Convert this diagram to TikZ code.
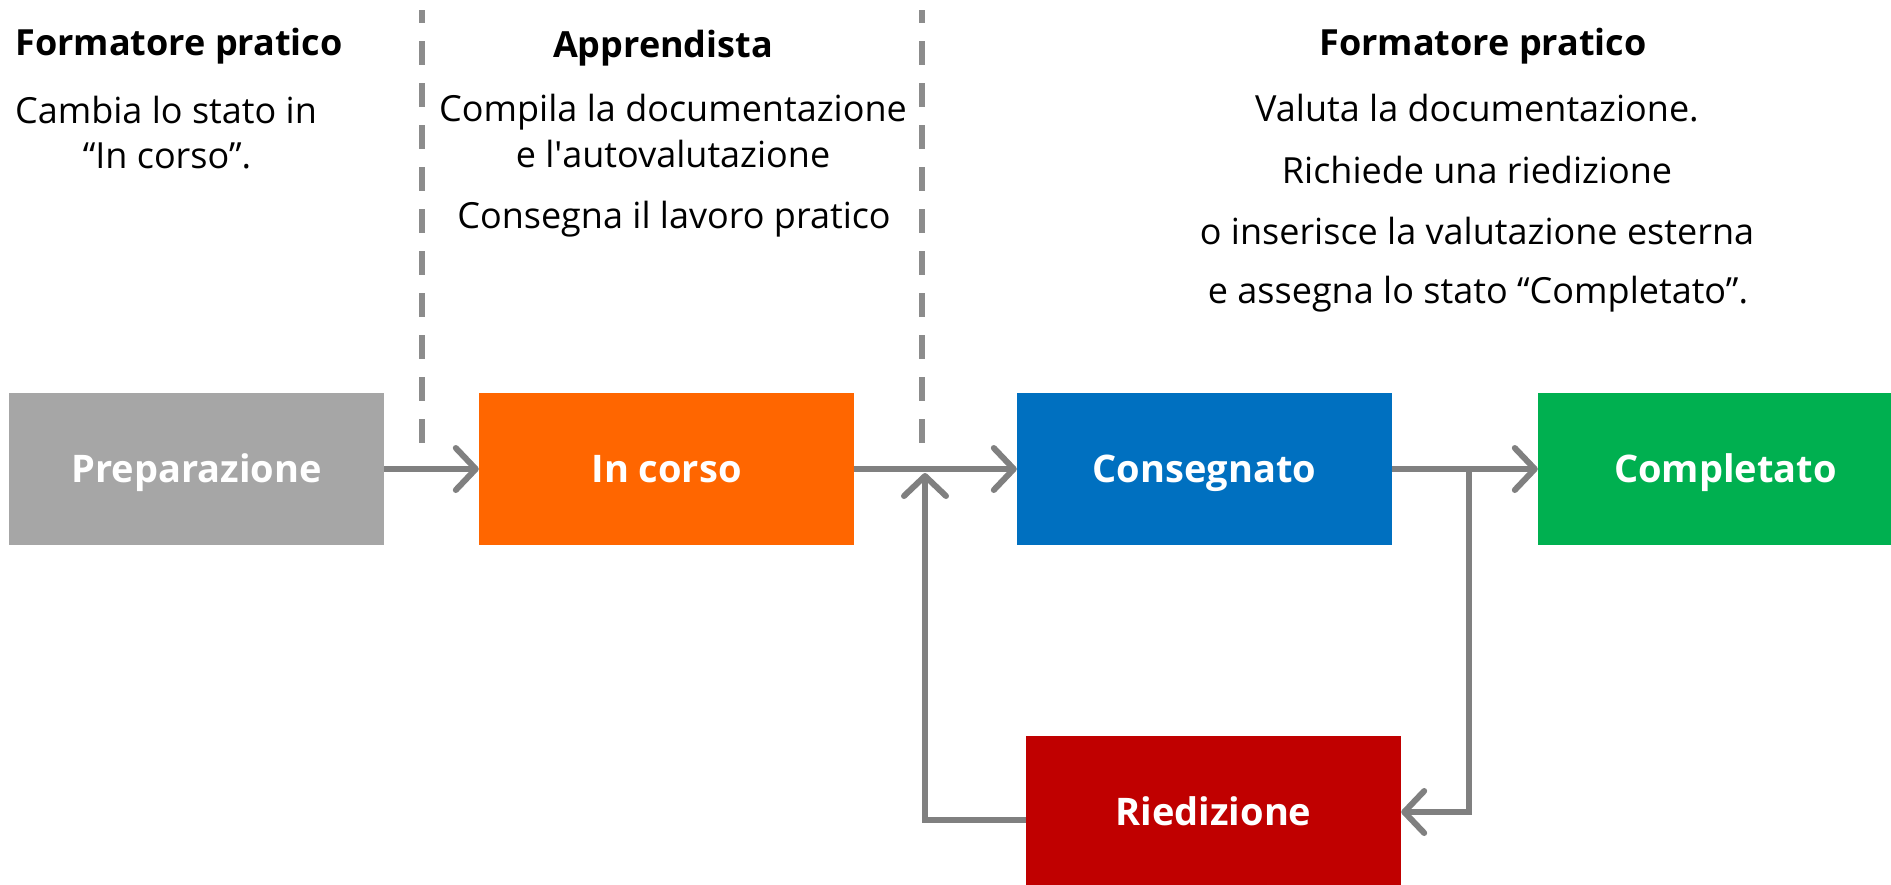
\documentclass[tikz,border=0pt]{standalone}
\usepackage{fontspec}
\setmainfont{Open Sans}
\usetikzlibrary{arrows.meta}
\definecolor{cgray}{HTML}{A6A6A6}
\definecolor{corange}{HTML}{FF6600}
\definecolor{cblue}{HTML}{0070C0}
\definecolor{cgreen}{HTML}{00B050}
\definecolor{cred}{HTML}{C00000}
\definecolor{arrowgray}{HTML}{808080}
\definecolor{dashgray}{HTML}{8C8C8C}
\begin{document}
\begin{tikzpicture}[x=1pt,y=-1pt,
  box/.style={minimum width=375pt, minimum height=152pt, inner sep=0pt, text=white,
    text height=27pt, text depth=0pt, font=\fontsize{38}{45}\selectfont\bfseries},
  conn/.style={draw=arrowgray, line width=6pt, -{Straight Barb[length=20pt,width=42pt,round]}},
  lane/.style={draw=dashgray, line width=6pt, dash pattern=on 24pt off 18pt, dash phase=11pt},
  head/.style={font=\fontsize{36}{43}\selectfont\bfseries, anchor=base},
  body/.style={font=\fontsize{36}{43}\selectfont, anchor=base}]
\clip (0,0) rectangle (1891,884);
% lanes
\draw[lane] (422,10) -- (422,443);
\draw[lane] (922,10) -- (922,443);
% boxes
\node[box, fill=cgray]   (prep)    at (196.5,469) {Preparazione};
\node[box, fill=corange] (incorso) at (666.5,469) {In corso};
\node[box, fill=cblue]   (cons)    at (1204.5,469) {Consegnato};
\node[box, fill=cgreen]  (comp)    at (1725.5,469) {Completato};
\node[box, fill=cred]    (ried)    at (1213.5,812) {Riedizione};
% texts
\node[head] (h1) at (179,55) {Formatore pratico};
\node[body] (t1a) at (166,123) {Cambia lo stato in};
\node[body] (t1b) at (167,168) {“In corso”.};
\node[head] (h2) at (663,57) {Apprendista};
\node[body] (t2a) at (673,121) {Compila la documentazione};
\node[body] (t2b) at (673,167) {e l\textquotesingle autovalutazione};
\node[body] (t2c) at (674,228) {Consegna il lavoro pratico};
\node[head] (h3) at (1483,55) {Formatore pratico};
\node[body] (t3a) at (1477,121) {Valuta la documentazione.};
\node[body] (t3b) at (1477,183) {Richiede una riedizione};
\node[body] (t3c) at (1477,244) {o inserisce la valutazione esterna};
\node[body] (t3d) at (1478,303) {e assegna lo stato “Completato”.};
% connectors
\coordinate (j1) at (925,473);
\coordinate (j2) at (1469,469);
\draw[conn] (prep.east) -- (incorso.west);
\draw[conn] (incorso.east) -- (cons.west);
\draw[conn] (cons.east) -- (comp.west);
\draw[conn] (j2) -- (j2 |- ried.east) -- (ried.east);
\draw[conn] ([yshift=-8pt]ried.west) -| (j1);
\end{tikzpicture}
\end{document}
